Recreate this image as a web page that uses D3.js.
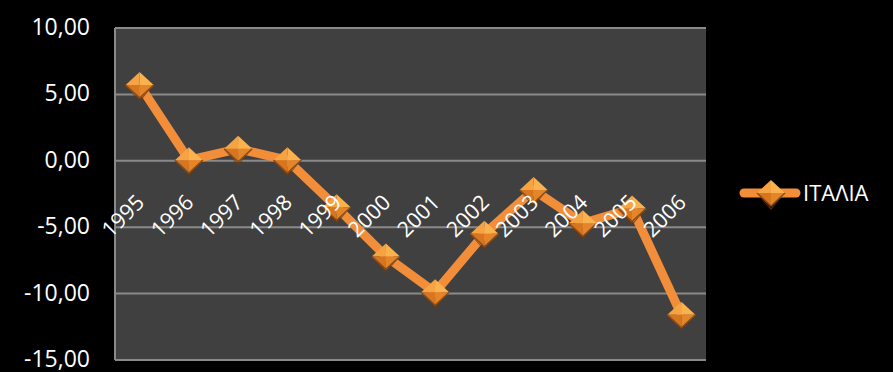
<!DOCTYPE html>
<html>
<head>
<meta charset="utf-8">
<script src="https://cdn.jsdelivr.net/npm/d3@7"></script>
<style>
  body { margin: 0; background: #000; }
  text { font-family: "Open Sans", sans-serif; fill: #fff; }
</style>
</head>
<body>
<svg id="chart" width="893" height="372"></svg>
<script>
var years = ["1995", "1996", "1997", "1998", "1999", "2000", "2001", "2002", "2003", "2004", "2005", "2006"];
var italia = [5.7, 0.05, 0.9, 0.05, -3.5, -7.2, -9.9, -5.5, -2.2, -4.7, -3.6, -11.6];
var yTicks = [10, 5, 0, -5, -10, -15];
var seriesName = "ΙΤΑΛΙΑ";

var margin = {top: 28, left: 115},
    width = 591,
    height = 332;

var svg = d3.select("#chart");
svg.append("rect").attr("width", 893).attr("height", 372).attr("fill", "#000");

var g = svg.append("g").attr("transform", "translate(" + margin.left + "," + margin.top + ")");

var x = d3.scaleBand().domain(years).range([0, width]);
var y = d3.scaleLinear().domain([-15, 10]).range([height, 0]);

var fmt = function(d) { return d3.format(".2f")(d).replace(".", ",").replace("−", "-"); };

// plot area
g.append("rect")
    .attr("width", width)
    .attr("height", height)
    .attr("fill", "#404040");

// gridlines
g.append("g")
    .selectAll("line")
    .data(yTicks)
    .enter().append("line")
    .attr("x1", 0)
    .attr("x2", width)
    .attr("y1", function(d) { return y(d); })
    .attr("y2", function(d) { return y(d); })
    .attr("stroke", "#8a8a8a")
    .attr("stroke-width", 2);

// left axis line
g.append("line")
    .attr("x1", 0).attr("x2", 0)
    .attr("y1", 0).attr("y2", height)
    .attr("stroke", "#8a8a8a")
    .attr("stroke-width", 2);

// y labels
g.append("g")
    .selectAll("text")
    .data(yTicks)
    .enter().append("text")
    .attr("x", -25)
    .attr("y", function(d) { return y(d); })
    .attr("dy", "0.3em")
    .attr("text-anchor", "end")
    .attr("font-size", 23)
    .text(fmt);

var orange = "#f28e3a";

var line = d3.line()
    .x(function(d, i) { return x(years[i]) + x.bandwidth() / 2; })
    .y(function(d) { return y(d); });

g.append("path")
    .datum(italia)
    .attr("d", line)
    .attr("fill", "none")
    .attr("stroke", orange)
    .attr("stroke-width", 9)
    .attr("stroke-linejoin", "round");

function marker(sel) {
    var w = 14, h = 13;
    sel.append("path")
        .attr("d", "M" + (-w) + ",1 L0," + (h + 2) + " L" + (w - 1) + ",1 L0," + (h + 4) + "Z")
        .attr("fill", "#6b3a12").attr("opacity", 0.8);
    sel.append("path")
        .attr("d", "M" + (-w) + ",0 L0," + (-h) + " L0,0Z").attr("fill", "#f6a443");
    sel.append("path")
        .attr("d", "M" + w + ",0 L0," + (-h) + " L0,0Z").attr("fill", "#f9b24e");
    sel.append("path")
        .attr("d", "M" + (-w) + ",0 L0," + h + " L0,0Z").attr("fill", "#d8761f");
    sel.append("path")
        .attr("d", "M" + w + ",0 L0," + h + " L0,0Z").attr("fill", "#e5852a");
    sel.append("path")
        .attr("d", "M" + (-w) + ",0 L0," + h + " L" + w + ",0")
        .attr("fill", "none").attr("stroke", "#8a4c18").attr("stroke-width", 1.5);
}

g.append("g")
    .selectAll("g")
    .data(italia)
    .enter().append("g")
    .attr("transform", function(d, i) {
        return "translate(" + (x(years[i]) + x.bandwidth() / 2) + "," + y(d) + ")";
    })
    .each(function() { marker(d3.select(this)); });

// category labels (drawn over the series, as in the original)
g.append("g")
    .selectAll("text")
    .data(years)
    .enter().append("text")
    .attr("transform", function(d) {
        return "translate(" + (x(d) + x.bandwidth() / 2 + 6) + "," + (y(0) + 43) + ") rotate(-45)";
    })
    .attr("text-anchor", "end")
    .attr("font-size", 21.5)
    .text(function(d) { return d; });

// legend
var legend = svg.append("g").attr("transform", "translate(740,193)");
legend.append("line")
    .attr("x1", 4).attr("x2", 56)
    .attr("stroke", orange)
    .attr("stroke-width", 9)
    .attr("stroke-linecap", "round");
legend.append("g").attr("transform", "translate(31,0)").call(marker);
legend.append("text")
    .attr("x", 63)
    .attr("dy", "0.36em")
    .attr("font-size", 22)
    .text(seriesName);
</script>
</body>
</html>
